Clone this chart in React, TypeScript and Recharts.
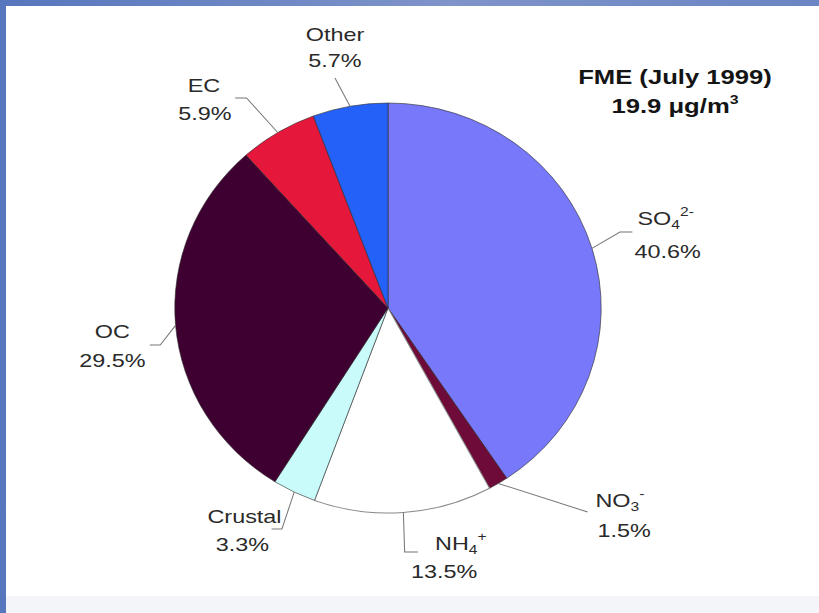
import { PieChart, Pie, Cell } from "recharts";

// PM2.5 composition, FME July 1999 (clockwise from 12 o'clock)
const NAMES = ["SO4", "NO3", "NH4", "Crustal", "OC", "EC", "Other"];
const NAME_BASE = ["SO", "NO", "NH", "Crustal", "OC", "EC", "Other"];
const NAME_SUB = ["4", "3", "4", "", "", "", ""];
const NAME_SUP = ["2-", "-", "+", "", "", "", ""];
const PERCENTS = [40.6, 1.5, 13.5, 3.3, 29.5, 5.9, 5.7];
const COLORS = ["#7878FA", "#6E0B38", "#FFFFFF", "#C9FBFB", "#3E0030", "#E5173B", "#2461F8"];

const TITLE = "FME (July 1999)";
const TOTAL = "19.9";

const data = NAMES.map((name, i) => ({ name, value: PERCENTS[i] }));

const RADIAN = Math.PI / 180;
const CX = 388;
const CY = 308;
const R = 205;
const STRETCH = 1.04;
const TEXT_STRETCH = 1.25;

// label placement, offsets from the pie centre (unstretched px)
const LABEL_LAYOUT = [
  { tx1: 267, tx2: 269, y1: -83, y2: -50, leader: [[223, -76], [235, -76]] },
  { tx1: 223, tx2: 227, y1: 199, y2: 229, leader: [[192, 204]] },
  { tx1: 70, tx2: 54, y1: 242, y2: 270, leader: [[16, 244], [29, 244]] },
  { tx1: -138, tx2: -140, y1: 215, y2: 243, leader: [[-102, 221], [-112, 221]] },
  { tx1: -265, tx2: -265, y1: 30, y2: 59, leader: [[-219, 37], [-229, 37]] },
  { tx1: -177, tx2: -176, y1: -216, y2: -188, leader: [[-136, -210], [-147, -210]] },
  { tx1: -51, tx2: -51, y1: -267, y2: -241, leader: [[-51, -230]] },
];

const renderLabel = (props: any) => {
  const { cx, cy, midAngle, outerRadius, index, value } = props;
  const layout = LABEL_LAYOUT[index];
  const ex = cx + outerRadius * Math.cos(-midAngle * RADIAN);
  const ey = cy + outerRadius * Math.sin(-midAngle * RADIAN);
  const pts = [[ex, ey], ...layout.leader.map(([u, v]) => [cx + u, cy + v])];
  const sub = NAME_SUB[index];
  const sup = NAME_SUP[index];
  const textStyle = { fontFamily: "'Liberation Sans', Arial, sans-serif", fontSize: 18, fill: "#2a2a2a" };
  return (
    <g key={`label-${index}`}>
      <polyline
        points={pts.map((p) => p.join(",")).join(" ")}
        fill="none"
        stroke="#777"
        strokeWidth={1}
      />
      <text
        transform={`translate(${cx + layout.tx1},${cy + layout.y1}) scale(${TEXT_STRETCH},1)`}
        textAnchor="middle"
        style={textStyle}
      >
        {NAME_BASE[index]}
        {sub && (
          <tspan fontSize={12} dy={4}>
            {sub}
          </tspan>
        )}
        {sup && (
          <tspan fontSize={12} dy={-13}>
            {sup}
          </tspan>
        )}
      </text>
      <text
        transform={`translate(${cx + layout.tx2},${cy + layout.y2}) scale(${TEXT_STRETCH},1)`}
        textAnchor="middle"
        style={textStyle}
      >
        {`${value.toFixed(1)}%`}
      </text>
    </g>
  );
};

export default function App() {
  return (
    <div
      style={{
        position: "absolute",
        left: 0,
        top: 0,
        width: 819,
        height: 613,
        overflow: "hidden",
        background: "linear-gradient(90deg, #5676bd 0%, #7f94c9 55%, #6a85c3 100%)",
      }}
    >
      <div
        style={{
          position: "absolute",
          left: 6,
          top: 6,
          width: 813,
          height: 590,
          background: "#ffffff",
        }}
      />
      <div
        style={{
          position: "absolute",
          left: 6,
          top: 596,
          width: 813,
          height: 17,
          background: "#f4f5f8",
        }}
      />
      <div
        style={{
          position: "absolute",
          left: 0,
          top: 0,
          width: 819,
          height: 613,
          transform: `scaleX(${STRETCH})`,
          transformOrigin: `${CX}px ${CY}px`,
        }}
      >
        <PieChart width={819} height={613} margin={{ top: 0, right: 0, bottom: 0, left: 0 }}>
          <Pie
            data={data}
            dataKey="value"
            nameKey="name"
            cx={CX}
            cy={CY}
            outerRadius={R}
            startAngle={90}
            endAngle={-270}
            labelLine={false}
            label={renderLabel}
            isAnimationActive={false}
          >
            {data.map((entry, index) => (
              <Cell
                key={`cell-${entry.name}`}
                fill={COLORS[index]}
                stroke={index === 2 ? "#8a8a8a" : "#2a2a2a"}
                strokeWidth={index === 2 ? 1 : 0.6}
              />
            ))}
          </Pie>
        </PieChart>
      </div>
      <div
        style={{
          position: "absolute",
          left: 560,
          top: 62,
          width: 230,
          textAlign: "center",
          fontFamily: "'Liberation Sans', Arial, sans-serif",
          fontWeight: "bold",
          fontSize: 21,
          lineHeight: "29px",
          color: "#141414",
          transform: "scaleX(1.22)",
          transformOrigin: "115px 0",
        }}
      >
        <div>{TITLE}</div>
        <div>
          {TOTAL} μg/m
          <sup style={{ fontSize: 13, verticalAlign: "9px", lineHeight: 0 }}>3</sup>
        </div>
      </div>
    </div>
  );
}
